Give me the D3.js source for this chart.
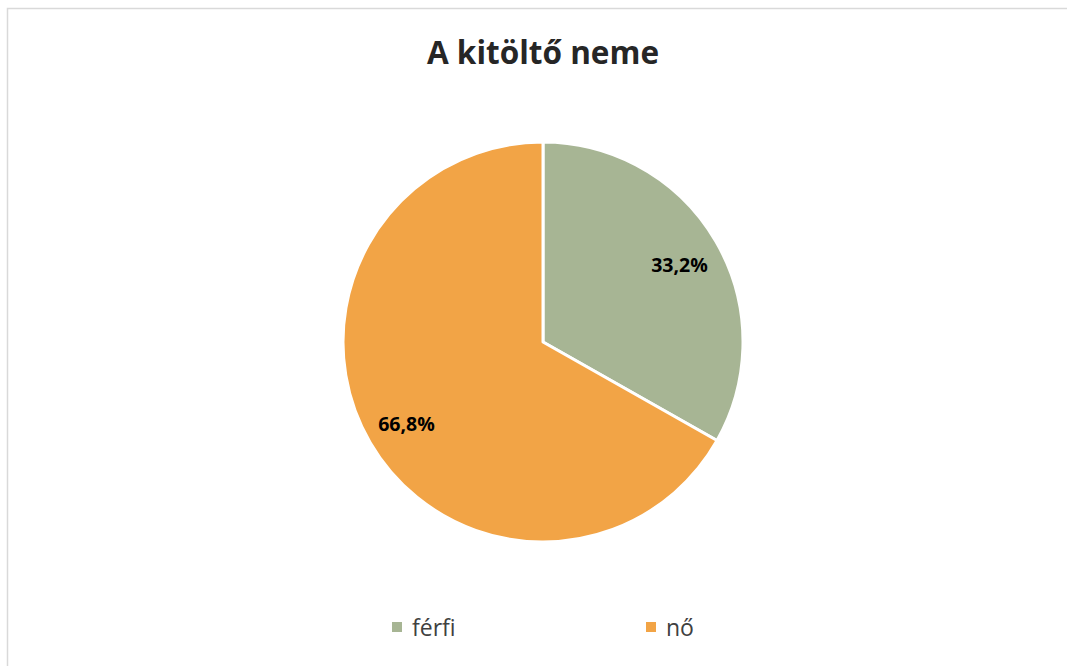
<!DOCTYPE html>
<html>
<head>
<meta charset="utf-8">
<script src="https://cdn.jsdelivr.net/npm/d3@7"></script>
<style>
  html, body { margin: 0; padding: 0; background: #fff; }
  svg { display: block; }
</style>
</head>
<body>
<div id="chart"></div>
<script>
// Chart data
const categories = ["férfi", "nő"];
const values = [33.2, 66.8];
const labels = ["33,2%", "66,8%"];
const colors = ["#a7b594", "#f2a446"];

const width = 1067, height = 666;

const svg = d3.select("#chart")
    .append("svg")
    .attr("width", width)
    .attr("height", height);

// Chart frame (only left and top edges are inside the window)
svg.append("rect")
    .attr("x", 7.5)
    .attr("y", 8.5)
    .attr("width", width + 20)
    .attr("height", height + 20)
    .attr("fill", "#fff")
    .attr("stroke", "#d9d9d9")
    .attr("stroke-width", 1.5);

// Title
svg.append("text")
    .attr("x", 543)
    .attr("y", 64)
    .attr("text-anchor", "middle")
    .attr("font-family", "'Open Sans', sans-serif")
    .attr("font-weight", "bold")
    .attr("font-size", 31.5)
    .attr("fill", "#262626")
    .text("A kitöltő neme");

// Pie
const cx = 543, cy = 342, radius = 200;
const pie = d3.pie().sort(null).value(d => d.value);
const arcs = pie(categories.map((c, i) => ({ name: c, value: values[i], label: labels[i], color: colors[i] })));

const arc = d3.arc().innerRadius(0).outerRadius(radius);
const labelArc = d3.arc().innerRadius(radius * 0.79).outerRadius(radius * 0.79);

const g = svg.append("g").attr("transform", `translate(${cx},${cy})`);

g.selectAll("path")
    .data(arcs)
    .join("path")
    .attr("d", arc)
    .attr("fill", d => d.data.color)
    .attr("stroke", "#fff")
    .attr("stroke-width", 3)
    .attr("stroke-linejoin", "round");

g.selectAll("text")
    .data(arcs)
    .join("text")
    .attr("transform", d => {
        const [x, y] = labelArc.centroid(d);
        return `translate(${x},${y + 3})`;
    })
    .attr("text-anchor", "middle")
    .attr("dy", "0.35em")
    .attr("font-family", "'Open Sans', sans-serif")
    .attr("font-weight", "bold")
    .attr("font-size", 19.5)
    .attr("fill", "#000")
    .text(d => d.data.label);

// Legend
const legendX = d3.scalePoint().domain(categories).range([392, 646]);

const legend = svg.append("g")
    .selectAll("g")
    .data(categories)
    .join("g")
    .attr("transform", d => `translate(${legendX(d)},622)`);

legend.append("rect")
    .attr("width", 10)
    .attr("height", 10)
    .attr("fill", (d, i) => colors[i]);

legend.append("text")
    .attr("x", 20)
    .attr("y", 14)
    .attr("font-family", "'Open Sans', sans-serif")
    .attr("font-size", 23)
    .attr("fill", "#404040")
    .text(d => d);
</script>
</body>
</html>
